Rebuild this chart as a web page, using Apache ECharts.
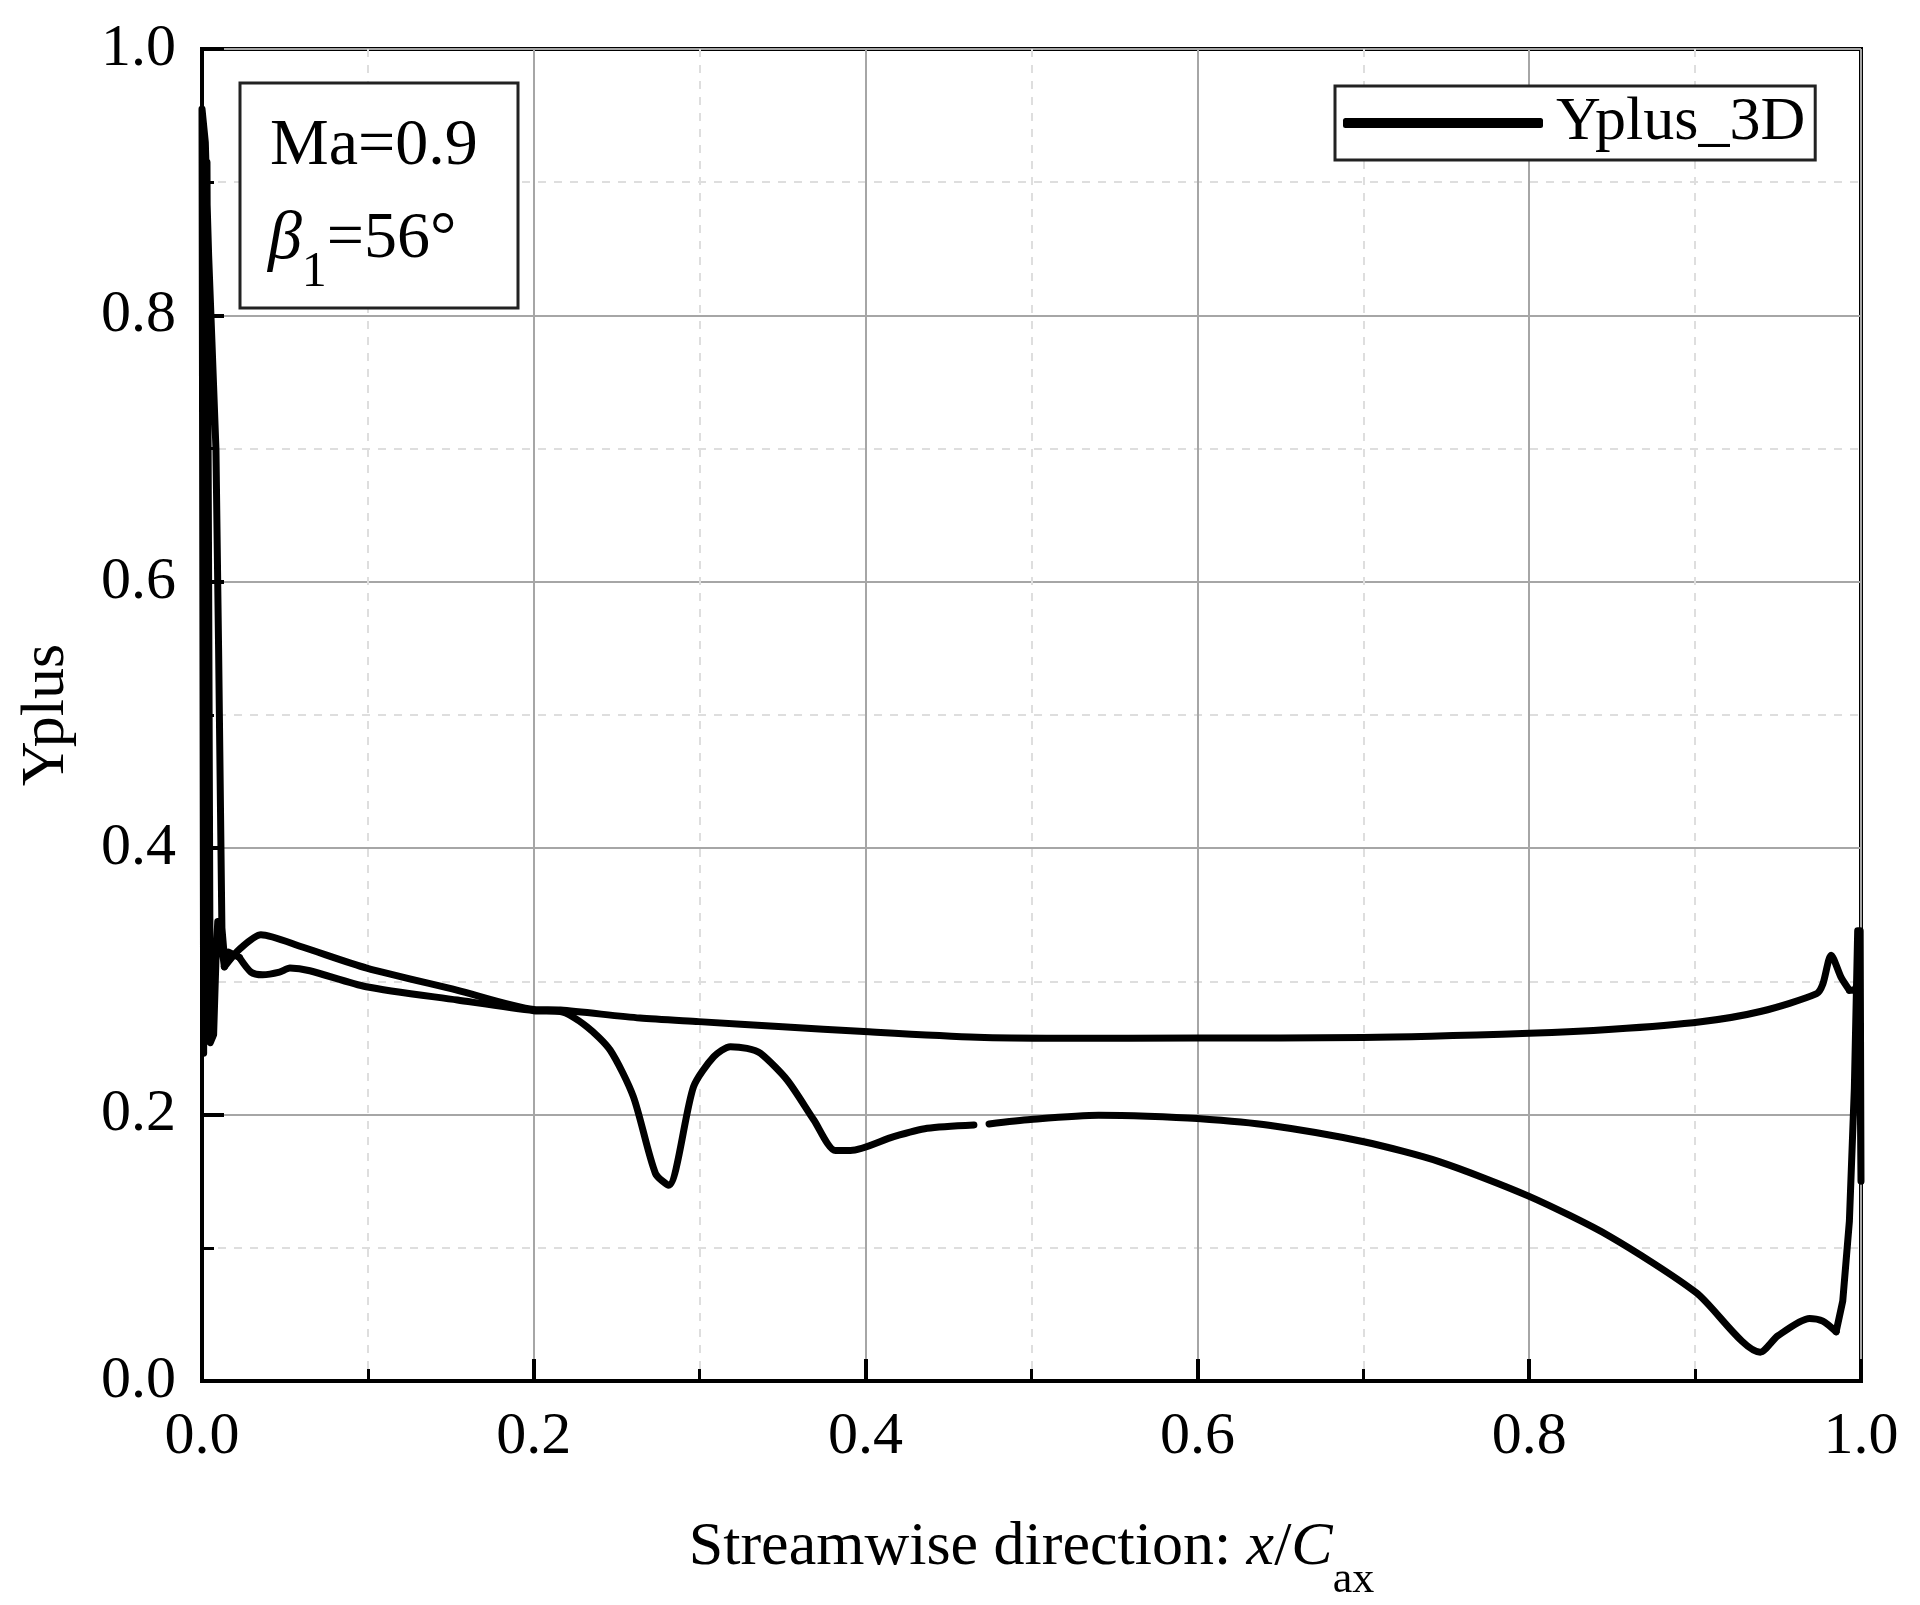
<!DOCTYPE html>
<html>
<head>
<meta charset="utf-8">
<script src="https://cdn.jsdelivr.net/npm/echarts@6/dist/echarts.min.js"></script>
<style>
  html, body { margin: 0; padding: 0; background: #fff; }
  #main { width: 1920px; height: 1605px; }
</style>
</head>
<body>
<div id="main"></div>
<script>
// upper branch (x/Cax, Yplus), leading edge -> trailing edge
var upperX = [0.0135, 0.0225, 0.0355, 0.06, 0.0993, 0.1536, 0.2, 0.216, 0.264, 0.2994, 0.35, 0.399, 0.4672, 0.517, 0.6, 0.7, 0.8, 0.85, 0.9035, 0.94, 0.9733, 0.977, 0.982, 0.988, 0.993];
var upperY = [0.311, 0.324, 0.335, 0.326, 0.310, 0.2935, 0.279, 0.2785, 0.2725, 0.2698, 0.266, 0.2623, 0.258, 0.2573, 0.2575, 0.2578, 0.261, 0.264, 0.2697, 0.2776, 0.2908, 0.298, 0.3197, 0.303, 0.2934];

// leading edge cluster
var leX = [0.0135, 0.0115, 0.0095, 0.0085, 0.007, 0.005, 0.004, 0.003, 0.002, 0.001, 0.0005, 0.0, 0.002, 0.004, 0.006, 0.0084, 0.010, 0.012, 0.0135, 0.016, 0.0225];
var leY = [0.311, 0.330, 0.345, 0.32, 0.26, 0.254, 0.60, 0.915, 0.70, 0.246, 0.60, 0.955, 0.93, 0.845, 0.78, 0.70, 0.55, 0.34, 0.318, 0.322, 0.318];

// lower branch, leading edge -> trailing edge (null = gap in the curve)
var lowerX = [0.0225, 0.0295, 0.0366, 0.0467, 0.053, 0.065, 0.099, 0.154, 0.2, 0.216, 0.232, 0.246, 0.26, 0.2733, 0.2813, 0.2963, 0.3085, 0.3185, 0.3285, 0.3366, 0.3527, 0.3688, 0.3818, 0.3909, 0.417, 0.4371, 0.4653, 0.47, 0.4744, 0.4994, 0.5405, 0.5698, 0.6, 0.6431, 0.7003, 0.7457, 0.8, 0.8484, 0.9006, 0.9393, 0.95, 0.969, 0.977, 0.985];
var lowerY = [0.318, 0.307, 0.305, 0.307, 0.310, 0.308, 0.296, 0.286, 0.278, 0.2773, 0.266, 0.2485, 0.2135, 0.1559, 0.147, 0.221, 0.2435, 0.251, 0.2497, 0.246, 0.226, 0.196, 0.173, 0.173, 0.1834, 0.1897, 0.1922, null, 0.193, 0.1963, 0.1995, 0.1988, 0.197, 0.192, 0.1796, 0.1647, 0.1386, 0.1087, 0.0664, 0.0216, 0.034, 0.047, 0.045, 0.037];

// trailing edge closing piece
var teX = [0.985, 0.989, 0.993, 0.996, 0.998, 0.9995, 1.0, 0.999, 0.996, 0.993];
var teY = [0.037, 0.06, 0.12, 0.22, 0.338, 0.338, 0.15, 0.30, 0.2934, 0.2934];

var xTicks = [0, 0.2, 0.4, 0.6, 0.8, 1.0];
var yTicks = [0, 0.2, 0.4, 0.6, 0.8, 1.0];

function pairs(xs, ys) {
    return xs.map(function (x, i) { return ys[i] == null ? [x, '-'] : [x, ys[i]]; });
}

var FONT = '"Liberation Serif", "Times New Roman", serif';

var myChart = echarts.init(document.getElementById('main'));

function valueAxis(ticks, extra) {
    var ax = {
        type: 'value',
        min: ticks[0],
        max: ticks[ticks.length - 1],
        interval: ticks[1] - ticks[0],
        axisLine: { show: true, onZero: false, lineStyle: { color: '#000', width: 4 } },
        axisTick: { show: true, inside: true, length: 22, lineStyle: { color: '#000', width: 4 } },
        minorTick: { show: true, splitNumber: 2, length: 12, lineStyle: { color: '#000', width: 3 } },
        splitLine: { show: true, lineStyle: { color: '#a6a6a6', width: 2 } },
        minorSplitLine: { show: true, lineStyle: { color: '#dedede', width: 2, type: [8, 8] } },
        axisLabel: {
            color: '#000', fontFamily: FONT, fontSize: 60, margin: 26,
            formatter: function (v) { return v.toFixed(1); }
        },
        nameLocation: 'middle',
        nameTextStyle: { color: '#000', fontFamily: FONT, fontSize: 62 }
    };
    return Object.assign(ax, extra);
}

function part(data, smooth) {
    return {
        name: 'Yplus_3D',
        type: 'line',
        data: data,
        showSymbol: false,
        symbol: 'none',
        smooth: smooth,
        connectNulls: false,
        lineStyle: { color: '#000', width: 7, join: 'round', cap: 'round' },
        itemStyle: { color: '#000' },
        z: 5
    };
}

var option = {
    backgroundColor: '#fff',
    animation: false,
    grid: {
        left: 202, top: 49, right: 59, bottom: 224,
        outerBoundsMode: 'none',
        show: true, borderColor: '#000', borderWidth: 4, backgroundColor: 'transparent'
    },
    xAxis: valueAxis(xTicks, {
        name: '{n|Streamwise direction: }{i|x}{n|/}{i|C}{s|ax}',
        nameGap: 131,
        nameTextStyle: {
            color: '#000', fontFamily: FONT, fontSize: 62,
            rich: {
                n: { fontFamily: FONT, fontSize: 62, color: '#000', lineHeight: 72 },
                i: { fontFamily: FONT, fontSize: 62, color: '#000', fontStyle: 'italic', lineHeight: 72 },
                s: { fontFamily: FONT, fontSize: 44, color: '#000', lineHeight: 44, verticalAlign: 'top', padding: [46, 0, 0, 0] }
            }
        }
    }),
    yAxis: valueAxis(yTicks, {
        name: 'Yplus',
        nameGap: 124,
        nameRotate: 90
    }),
    legend: {
        left: 1335, top: 86,
        orient: 'horizontal',
        backgroundColor: '#fff',
        borderColor: '#222', borderWidth: 3, borderRadius: 0,
        padding: [6, 10, 6, 8],
        itemWidth: 200, itemHeight: 10,
        icon: 'roundRect',
        itemStyle: { color: '#000', borderWidth: 0 },
        textStyle: { color: '#000', fontFamily: FONT, fontSize: 62, padding: [0, 0, 0, 8] },
        data: ['Yplus_3D']
    },
    graphic: [
        {
            type: 'rect', z: 100,
            shape: { x: 240, y: 83, width: 278, height: 225 },
            style: { fill: '#fff', stroke: '#222', lineWidth: 3 }
        },
        {
            type: 'text', z: 101, x: 270, y: 114,
            style: { text: 'Ma=0.9', font: '66px ' + FONT, fill: '#000' }
        },
        {
            type: 'text', z: 101, x: 268, y: 202,
            style: {
                text: '{b|β}{s|1}{n|=56°}',
                fill: '#000',
                rich: {
                    b: { fontFamily: FONT, fontSize: 68, fontStyle: 'italic', lineHeight: 76, fill: '#000' },
                    n: { fontFamily: FONT, fontSize: 66, lineHeight: 76, fill: '#000' },
                    s: { fontFamily: FONT, fontSize: 50, lineHeight: 50, fill: '#000', verticalAlign: 'top', padding: [46, 0, 0, 0] }
                }
            }
        }
    ],
    series: [
        part(pairs(upperX, upperY), 0.25),
        part(pairs(leX, leY), false),
        part(pairs(lowerX, lowerY), 0.25),
        part(pairs(teX, teY), false)
    ]
};
myChart.setOption(option);
window.addEventListener('resize', function () {
    myChart.resize();
});
</script>
</body>
</html>
